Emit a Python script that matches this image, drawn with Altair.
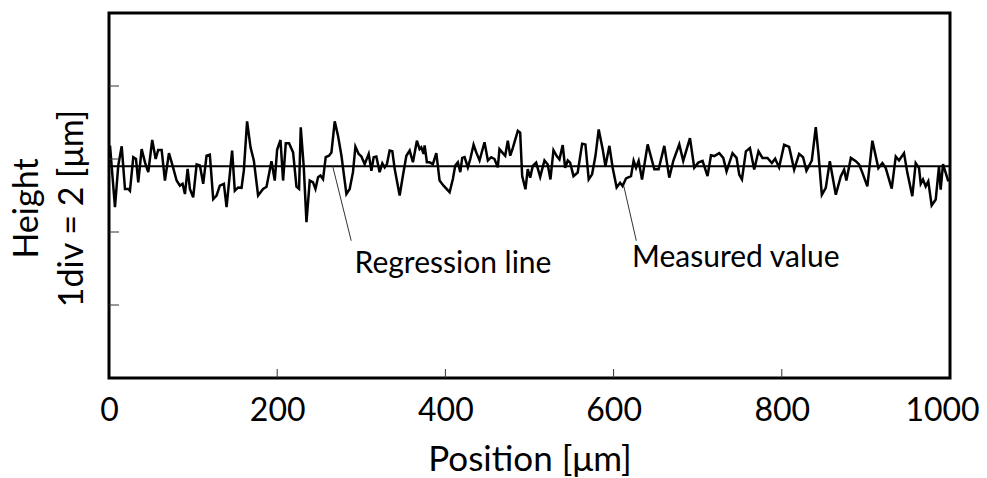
import altair as alt
import pandas as pd

# Measured profile (position in µm, height relative to regression line in µm)
pos = [1.2, 7.1, 11.0, 15.1, 19.0, 22.9, 24.9, 28.9, 32.1, 34.8, 38.8, 42.8, 46.7, 51.4, 55.5, 58.5, 62.6, 66.5, 71.3, 75.6,
       80.4, 84.3, 87.5, 90.3, 93.5, 96.2, 100.1, 104.2, 108.1, 112.0, 116.0, 119.9, 123.9, 127.9, 131.8, 136.6, 139.8, 146.4, 149.6, 153.6,
       157.6, 160.3, 164.2, 168.3, 172.2, 177.3, 183.2, 187.3, 193.2, 197.1, 199.9, 203.9, 207.0, 210.2, 214.1, 218.9, 222.9, 226.0, 228.0, 231.6,
       234.8, 238.7, 242.6, 245.5, 248.6, 251.4, 254.5, 257.7, 261.6, 264.5, 268.4, 272.3, 276.4, 282.3, 286.2, 290.1, 293.0, 296.9, 300.1, 304.0,
       308.8, 312.0, 314.7, 317.9, 321.8, 325.0, 327.8, 330.5, 333.7, 336.9, 339.7, 345.6, 349.5, 353.6, 357.5, 361.4, 366.1, 369.3, 371.3, 374.1,
       375.3, 378.0, 381.2, 385.1, 389.2, 393.1, 397.8, 405.0, 408.9, 411.7, 414.8, 417.7, 420.0, 422.8, 426.7, 429.6, 433.5, 436.7, 440.6, 446.5,
       450.5, 454.5, 458.4, 462.3, 464.3, 468.3, 471.1, 474.2, 477.1, 480.1, 486.1, 488.9, 491.3, 495.2, 497.9, 500.8, 503.9, 507.9, 512.7, 517.8,
       521.7, 524.9, 528.5, 532.4, 535.6, 539.5, 542.4, 545.5, 548.3, 552.3, 557.3, 562.6, 566.5, 570.4, 574.4, 578.4, 582.3, 587.0, 590.3, 595.0,
       598.9, 603.6, 607.7, 610.7, 614.8, 620.7, 623.8, 626.7, 629.8, 633.8, 640.5, 648.4, 653.5, 660.3, 666.2, 671.0, 678.1, 682.8, 690.8, 695.9,
       700.7, 705.8, 711.7, 715.8, 719.7, 725.6, 730.4, 734.3, 741.4, 746.2, 749.4, 752.6, 757.3, 762.1, 767.2, 772.3, 777.0, 783.0, 788.2, 792.1,
       796.8, 802.8, 808.7, 814.7, 820.6, 825.3, 829.3, 835.7, 840.4, 843.5, 847.6, 852.3, 857.1, 864.2, 870.2, 874.1, 876.8, 882.1, 888.0, 891.9,
       895.9, 901.7, 907.7, 914.8, 919.6, 923.6, 930.7, 935.5, 939.4, 945.3, 949.3, 955.2, 959.2, 963.2, 965.2, 967.9, 971.1, 974.2, 978.2, 983.0,
       986.9, 988.9, 991.7, 994.9, 998.0]
height = [0.57, -1.12, 0.02, 0.55, -0.62, -0.62, -0.67, 0.25, 0.20, -0.44, 0.47, 0.11, -0.16, 0.72, 0.20, 0.45, 0.45, -0.39, 0.36, 0.02,
          -0.39, -0.53, -0.48, -0.76, -0.07, -0.62, -0.85, 0.05, 0.02, -0.48, 0.29, 0.32, -0.90, -0.80, -0.53, -0.48, -1.12, 0.43, -0.67, -0.58,
          -0.59, -0.12, 1.23, 0.52, 0.16, -0.80, -0.62, -0.56, 0.14, -0.39, 0.45, 0.72, -0.39, 0.63, 0.63, 0.38, -0.56, -0.62, 1.07, -0.03,
          -1.53, -0.39, -0.44, -0.62, -0.30, -0.25, -0.35, 0.25, 0.29, 0.38, 1.23, 0.84, 0.29, -0.76, -0.62, -0.16, 0.54, 0.34, 0.27, 0.06,
          0.34, -0.12, 0.25, 0.27, -0.16, 0.08, -0.03, 0.06, 0.43, 0.41, -0.07, -0.80, -0.25, 0.29, 0.43, 0.11, 0.70, 0.47, 0.52, 0.34,
          0.57, 0.11, 0.11, 0.06, 0.36, -0.39, -0.53, -0.71, -0.35, 0.02, 0.11, -0.16, 0.23, 0.25, -0.03, 0.20, 0.59, 0.38, 0.16, 0.66,
          0.16, 0.25, 0.20, -0.03, 0.47, 0.36, 0.29, 0.70, 0.29, 0.50, 0.97, 0.92, -0.27, -0.63, -0.08, -0.31, 0.01, 0.10, -0.29, 0.16,
          0.05, -0.36, 0.44, 0.28, 0.19, 0.58, -0.04, 0.16, 0.10, -0.27, -0.17, 0.62, 0.60, -0.36, -0.22, 0.28, 1.01, 0.47, 0.01, 0.56,
          -0.04, -0.58, -0.45, -0.54, -0.33, -0.27, 0.15, -0.04, 0.15, -0.36, 0.60, -0.08, -0.08, 0.56, -0.31, 0.15, 0.60, 0.15, 0.77, -0.04,
          0.10, 0.15, -0.27, 0.30, 0.28, 0.36, 0.23, -0.14, 0.36, 0.23, -0.23, -0.36, 0.41, 0.50, -0.09, 0.41, 0.23, 0.23, 0.09, 0.21,
          -0.03, 0.59, 0.53, -0.09, 0.34, 0.25, -0.12, 0.16, 1.07, 0.36, -0.78, -0.59, 0.14, -0.78, -0.27, -0.09, -0.39, 0.23, 0.14, 0.05,
          -0.18, -0.55, 0.70, -0.05, 0.09, -0.05, -0.61, 0.27, 0.16, 0.36, -0.18, -0.82, 0.09, -0.05, -0.48, -0.36, -0.55, -0.41, -1.07, -0.91,
          0.00, -0.64, 0.06, -0.18, -0.41]

# Regression line end points
reg_x = [0, 1000]
reg_y = [0.0, 0.0]

x_ticks = [0, 200, 400, 600, 800, 1000]
y_ticks = [-3.8, -1.8, 0.2, 2.2]
x_domain = [0, 1000]
y_domain = [-5.8, 4.2]

# Annotations: leader lines and labels
ann_text = ["Regression line", "Measured value"]
ann_tx = [292, 622]
ann_ty = [-2.67, -2.50]
lead_x1 = [266, 612]
lead_y1 = [0.0, -0.53]
lead_x2 = [288, 627]
lead_y2 = [-2.04, -2.04]

FONT = "Lato"

meas_df = pd.DataFrame({"pos": pos, "h": height})
reg_df = pd.DataFrame({"pos": reg_x, "h": reg_y})
ann_df = pd.DataFrame({"t": ann_text, "x": ann_tx, "y": ann_ty})
lead_df = pd.DataFrame({"x": lead_x1, "y": lead_y1, "x2": lead_x2, "y2": lead_y2})
xt_df = pd.DataFrame({"v": x_ticks[1:-1]})
yt_df = pd.DataFrame({"v": y_ticks})

xs = alt.Scale(domain=x_domain, nice=False, zero=False)
ys = alt.Scale(domain=y_domain, nice=False, zero=False)

x_axis = alt.Axis(values=x_ticks, format="d", title="Position [μm]", labelFontSize=32, titleFontSize=35,
                  labelFont=FONT, titleFont=FONT, labelColor="black", titleColor="black",
                  titleFontWeight="normal", ticks=False, domain=False, grid=False,
                  labelPadding=17, labelFlush=False,
                  labelOffset=alt.ExprRef(expr="datum.value == 1000 ? -8 : 0"),
                  titleY=92, titleBaseline="alphabetic")
y_axis = alt.Axis(values=y_ticks, labels=False, ticks=False, domain=False, grid=False,
                  title=["Height", "1div = 2 [μm]"], titleFontSize=34, titleFont=FONT,
                  titleColor="black", titleFontWeight="normal",
                  titleAngle=-90, titleX=-72, titleY=195, titleAlign="center",
                  titleBaseline="alphabetic", titleLineHeight=45)

meas = alt.Chart(meas_df).mark_line(color="black", strokeWidth=2.5).encode(
    x=alt.X("pos:Q", scale=xs, axis=x_axis),
    y=alt.Y("h:Q", scale=ys, axis=y_axis),
)
reg = alt.Chart(reg_df).mark_line(color="black", strokeWidth=2).encode(
    x=alt.X("pos:Q", scale=xs), y=alt.Y("h:Q", scale=ys)
)
leads = alt.Chart(lead_df).mark_rule(color="#333333", strokeWidth=1).encode(
    x=alt.X("x:Q", scale=xs), y=alt.Y("y:Q", scale=ys), x2="x2:Q", y2="y2:Q"
)
labels = alt.Chart(ann_df).mark_text(align="left", baseline="middle", fontSize=30, font=FONT, color="black").encode(
    x=alt.X("x:Q", scale=xs), y=alt.Y("y:Q", scale=ys), text="t:N"
)
xticks = alt.Chart(xt_df).mark_rule(color="#333333", strokeWidth=1).encode(
    x=alt.X("v:Q", scale=xs), y=alt.value(356), y2=alt.value(365)
)
yticks = alt.Chart(yt_df).mark_rule(color="#333333", strokeWidth=1).encode(
    y=alt.Y("v:Q", scale=ys), x=alt.value(0), x2=alt.value(10)
)

chart = alt.layer(meas, reg, leads, labels, xticks, yticks).properties(
    width=841, height=365,
    background="white",
    autosize=alt.AutoSizeParams(type="none"),
    padding={"left": 101, "top": 5, "right": 29, "bottom": 100},
).configure_view(stroke="black", strokeWidth=3)

chart.save("out.html", embed_options={"renderer": "svg", "actions": False})
